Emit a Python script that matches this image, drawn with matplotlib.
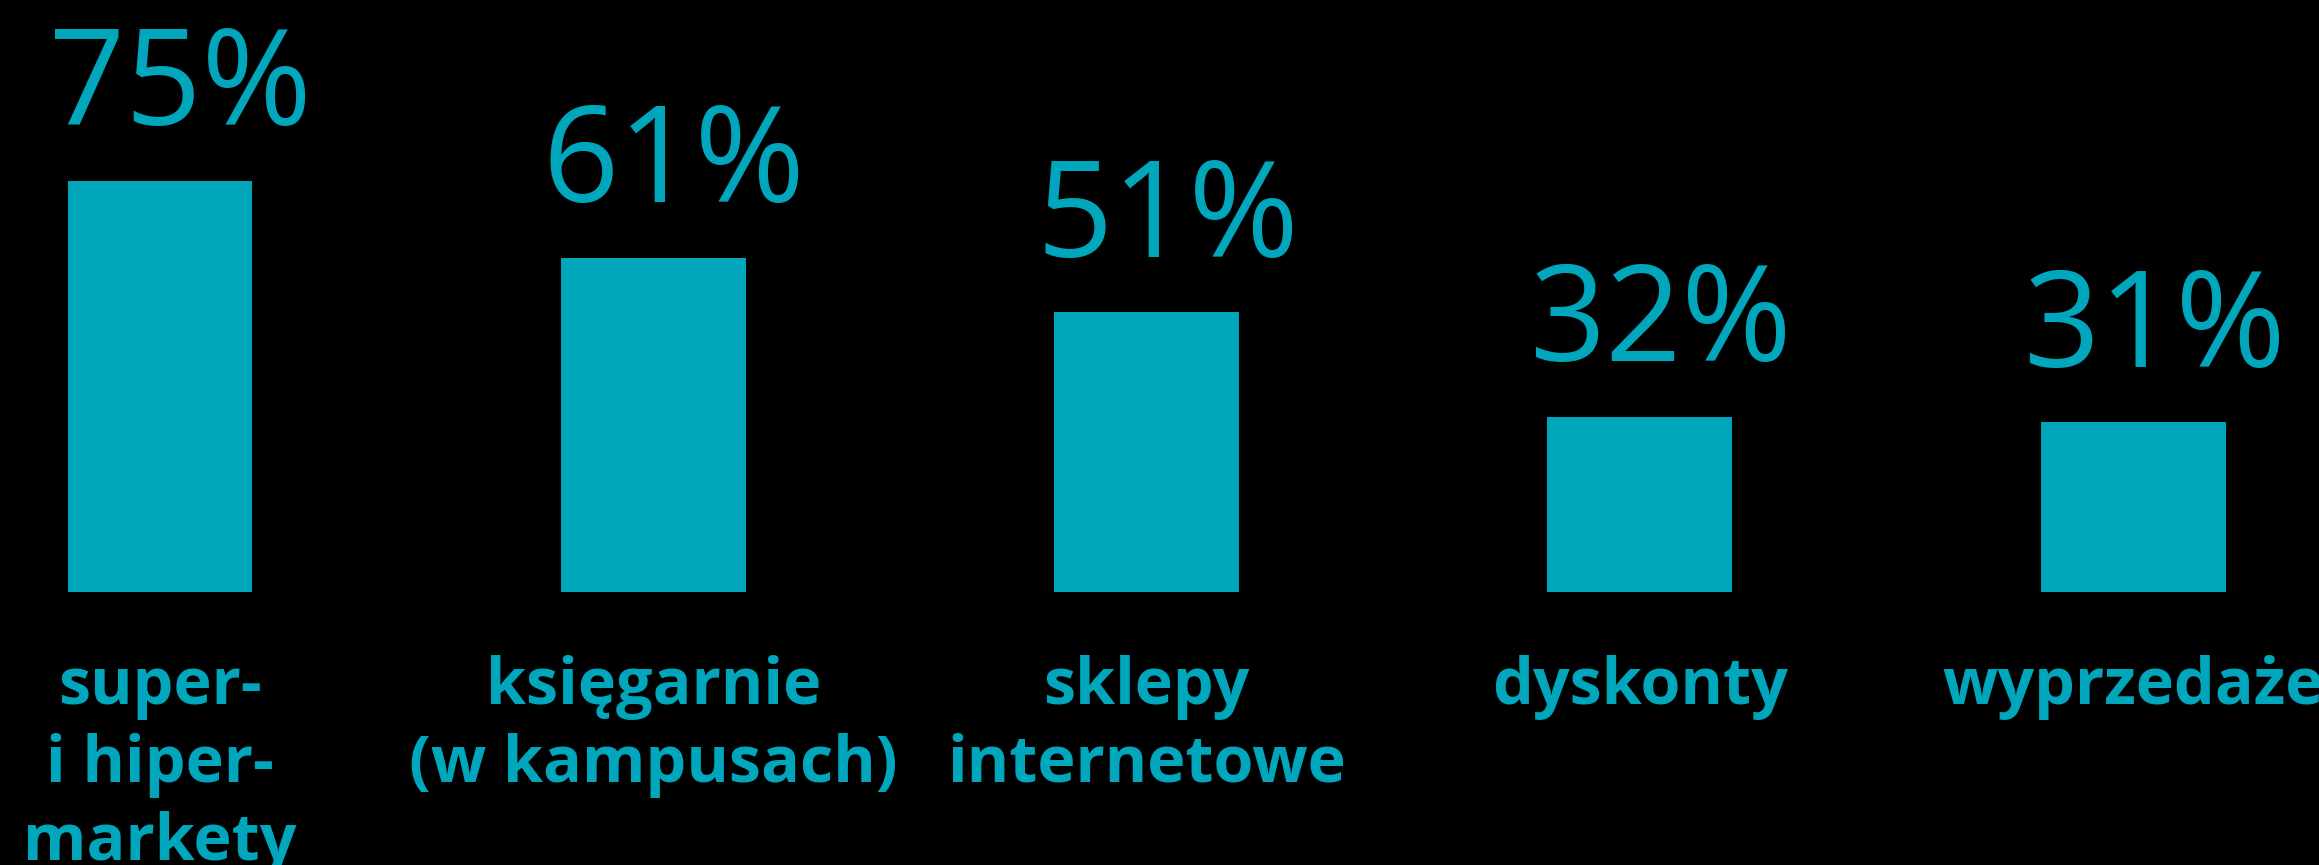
import matplotlib.pyplot as plt

categories = [
    "super-\ni hiper-\nmarkety",
    "księgarnie\n(w kampusach)",
    "sklepy\ninternetowe",
    "dyskonty",
    "wyprzedaże",
]
values = [75, 61, 51, 32, 31]
value_labels = ["75%", "61%", "51%", "32%", "31%"]

TEAL = "#00a6bb"
BG = "#000000"

W, H, DPI = 2319, 865, 100
fig = plt.figure(figsize=(W / DPI, H / DPI), dpi=DPI, facecolor=BG)
# bars sit on a baseline 592 px from the top of the picture
ax = fig.add_axes([0, 273 / H, 1, 592 / H])
ax.set_facecolor(BG)

x = list(range(len(values)))
ax.bar(x, values, width=0.375, color=TEAL)
ax.set_xlim(-0.3244, 4.377)
ax.set_ylim(0, 108)

for xi, v, lab in zip(x, values, value_labels):
    ax.annotate(
        lab,
        xy=(xi, v),
        xytext=(15, 40),
        textcoords="offset points",
        ha="center",
        va="baseline",
        fontsize=96,
        fontfamily="Open Sans",
        color=TEAL,
    )

ax.set_xticks(x)
ax.set_xticklabels(
    categories,
    fontsize=46.5,
    fontfamily="Open Sans",
    fontweight="bold",
    color=TEAL,
    linespacing=1.27,
)
ax.tick_params(axis="x", length=0, pad=45)
ax.set_yticks([])
for s in ax.spines.values():
    s.set_visible(False)

fig.savefig("out.png", dpi=DPI, facecolor=BG)
